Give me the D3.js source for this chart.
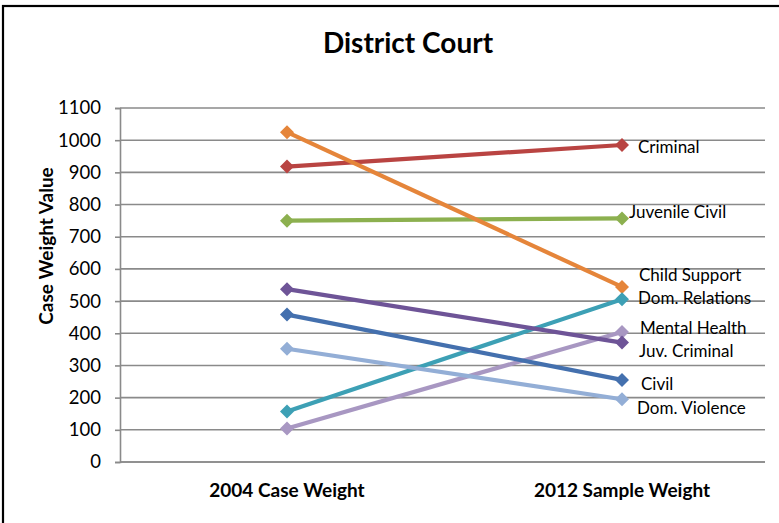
<!DOCTYPE html>
<html>
<head>
<meta charset="utf-8">
<script src="https://cdn.jsdelivr.net/npm/d3@7"></script>
<style>
  html, body { margin: 0; padding: 0; background: #fff; }
  svg { display: block; font-family: Lato, "Open Sans", sans-serif; }
</style>
</head>
<body>
<svg id="chart" width="779" height="523"></svg>
<script>
// ---- data ----
const categories = ["2004 Case Weight", "2012 Sample Weight"];
const seriesNames = ["Criminal", "Juvenile Civil", "Child Support", "Dom. Relations",
                     "Mental Health", "Juv. Criminal", "Civil", "Dom. Violence"];
const values2004 = [918, 750, 1025, 157, 104, 537, 458, 352];
const values2012 = [985, 757, 544, 506, 404, 371, 255, 195];
const yTicks = [0, 100, 200, 300, 400, 500, 600, 700, 800, 900, 1000, 1100];

// ---- styling (kept apart from data) ----
const colors = ["#B94442", "#8CB04F", "#E5853A", "#3DA0B5", "#A897C2", "#6E5497", "#4470AE", "#93AED6"];
const labelOffsets = [[16, 2], [7, -6], [17, -12], [16, -1], [18, -4], [17, 8], [19, 4], [15, 9]];

const svg = d3.select("#chart");

// outer chart border
svg.append("rect").attr("x", 3).attr("y", 6).attr("width", 800).attr("height", 540)
  .attr("fill", "none").attr("stroke", "#000").attr("stroke-width", 2.2);

const plotLeft = 120, plotRight = 765, plotTop = 108, plotBottom = 462;

const x = d3.scalePoint().domain(categories).range([287, 622]);
const y = d3.scaleLinear().domain([0, 1100]).range([plotBottom, plotTop]);

// title
svg.append("text").attr("x", 408).attr("y", 53).attr("text-anchor", "middle")
  .attr("font-size", 28).attr("font-weight", "bold").attr("fill", "#000")
  .text("District Court");

// gridlines
svg.append("g").selectAll("line").data(yTicks).join("line")
  .attr("x1", plotLeft).attr("x2", plotRight)
  .attr("y1", d => y(d)).attr("y2", d => y(d))
  .attr("stroke", "#8a8a8a").attr("stroke-width", 1.6);

// y axis
const yAxis = d3.axisLeft(y).tickValues(yTicks).tickSize(5).tickPadding(14).tickFormat(d3.format("d"));
const gy = svg.append("g").attr("transform", `translate(${plotLeft},0)`).call(yAxis);
gy.select(".domain").attr("stroke", "#8a8a8a").attr("stroke-width", 1.6);
gy.selectAll(".tick line").attr("stroke", "#8a8a8a").attr("stroke-width", 1.6);
gy.selectAll(".tick text").attr("font-size", 18.5).attr("fill", "#000")
  .attr("font-family", "Lato, 'Open Sans', sans-serif");

// x axis line
svg.append("line").attr("x1", plotLeft).attr("x2", plotRight)
  .attr("y1", plotBottom).attr("y2", plotBottom)
  .attr("stroke", "#8a8a8a").attr("stroke-width", 1.6);

// x labels
svg.append("g").selectAll("text").data(categories).join("text")
  .attr("x", d => x(d)).attr("y", 497).attr("text-anchor", "middle")
  .attr("font-size", 19).attr("font-weight", "bold").attr("fill", "#000")
  .text(d => d);

// y axis title
svg.append("text").attr("transform", "translate(53,246) rotate(-90)")
  .attr("text-anchor", "middle").attr("font-size", 19).attr("font-weight", "bold")
  .text("Case Weight Value");

// series
const series = seriesNames.map((name, i) => ({
  name, i, pts: [[categories[0], values2004[i]], [categories[1], values2012[i]]]
}));
const line = d3.line().x(d => x(d[0])).y(d => y(d[1]));

const gs = svg.append("g").selectAll("g").data(series).join("g");
gs.append("path").attr("d", d => line(d.pts)).attr("fill", "none")
  .attr("stroke", d => colors[d.i]).attr("stroke-width", 4.2);
const diamond = d3.symbol().type(d3.symbolDiamond2).size(125);
gs.selectAll("path.m").data(d => d.pts.map(p => ({p, i: d.i}))).join("path")
  .attr("class", "m")
  .attr("d", diamond)
  .attr("transform", d => `translate(${x(d.p[0])},${y(d.p[1])})`)
  .attr("fill", d => colors[d.i]);

// labels at 2012 points
gs.append("text")
  .attr("x", d => x(categories[1]) + labelOffsets[d.i][0])
  .attr("y", d => y(values2012[d.i]) + labelOffsets[d.i][1])
  .attr("dy", "0.35em").attr("font-size", 17).attr("fill", "#000")
  .text(d => d.name);
</script>
</body>
</html>
